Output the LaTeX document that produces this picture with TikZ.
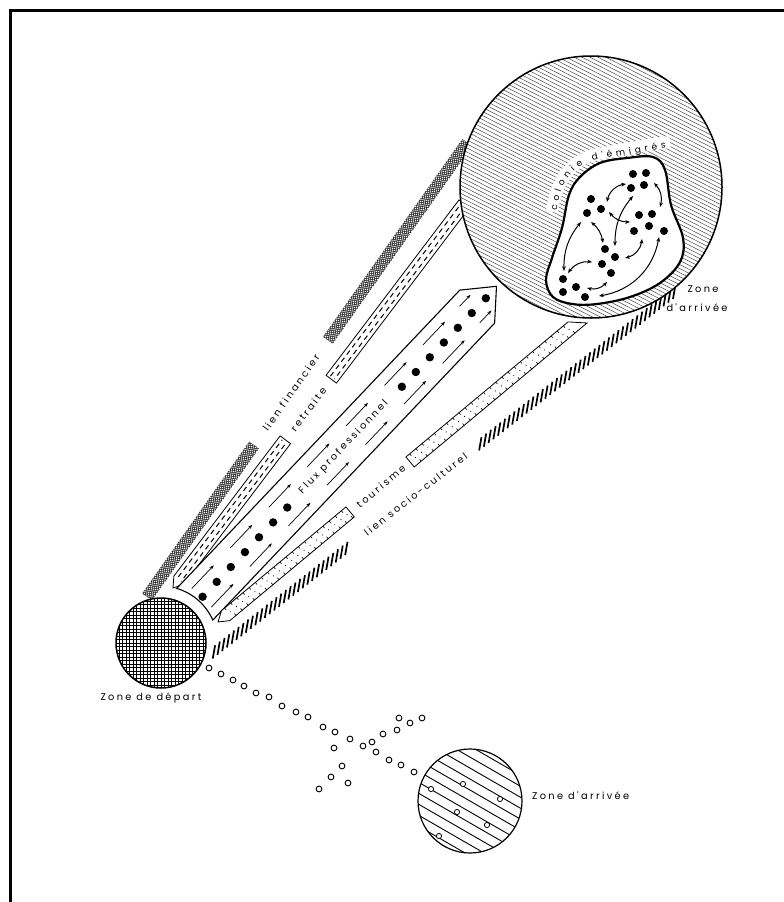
\documentclass[tikz,border=0pt]{standalone}
\usepackage{fontspec}
\newfontfamily\lab[LetterSpace=24]{Poppins}
\newfontfamily\labnsp{Poppins}
\newcommand\labsz{\lab\fontsize{9.8}{11}\selectfont}
\newcommand\curvsz{\labnsp\fontsize{9}{10}\selectfont}
\usetikzlibrary{arrows.meta,decorations.text,calc}
\begin{document}
\begin{tikzpicture}[x=1pt,y=-1pt,
  lbl/.style={font=\labsz, inner sep=0pt},
  bandline/.style={line width=0.8pt},
  parrow/.style={-{Stealth[length=4.5pt,width=3.2pt]}, line width=0.7pt},
  darrow/.style={{Stealth[length=4.8pt,width=3.8pt]}-{Stealth[length=4.8pt,width=3.8pt]}, line width=1pt},
  tick/.style={line width=0.6pt},
  hstroke/.style={line width=1.7pt}]
\useasboundingbox (0,0) rectangle (784,902);
\fill[white] (0,0) rectangle (784,902);
\draw[line width=2.2pt] (10.5,902) -- (10.5,10.5) -- (784,10.5);

% lien financier (dark checker of dots)
\begin{scope}[shift={(147,597)}, rotate=54.83]
  \foreach \a/\b in {0/186, 314/556} {
    \begin{scope}
      \clip (\a,-6) -- (\b,-6) -- (\b,6) -- (\a,6) -- cycle;
      \fill[black!85] (\a,-6) -- (\b,-6) -- (\b,6) -- (\a,6) -- cycle;
      \foreach \s in {0,2.8,...,246} {
        \foreach \t in {-5.6,-2.8,0,2.8,5.6} {
          \fill[white] (\a+\s,\t) circle[radius=0.8pt];
          \fill[white] (\a+\s+1.4,\t+1.4) circle[radius=0.8pt];
        }
      }
    \end{scope}
  }
  \node[lbl, rotate=54.83] (fin) at (250,0) {lien financier};
\end{scope}

% retraite
\begin{scope}[shift={(173,588)}, rotate=52.84]
  \draw[bandline, fill=white] (0,0) -- (10,-6.5) -- (186,-6.5) -- (186,6.5) -- (10,6.5) -- cycle;
  \draw[bandline, fill=white] (262,-6.5) -- (482,-6.5) -- (482,6.5) -- (262,6.5) -- cycle;
  \draw[line width=1pt, dash pattern=on 5pt off 4pt] (12,-2.5) -- (184,-2.5);
  \draw[line width=1pt, dash pattern=on 5pt off 4pt, dash phase=4.5pt] (10,2.5) -- (184,2.5);
  \draw[line width=1pt, dash pattern=on 5pt off 4pt] (264,-2.5) -- (482,-2.5);
  \draw[line width=1pt, dash pattern=on 5pt off 4pt, dash phase=4.5pt] (264,2.5) -- (482,2.5);
  \node[lbl, rotate=52.84] (ret) at (224,0) {retraite};
\end{scope}

% flux professionnel
\begin{scope}[shift={(195,604)}, rotate=46.5]
  \draw[line width=1.1pt, fill=white] (-1.3,-24) -- (410,-24) -- (438,0) -- (410,24) -- (0.6,24)
     -- plot[domain=22.7:-27.1, samples=16] ({-52+57*cos(\x)},{2+57*sin(\x)}) -- cycle;
  \foreach \s in {10.5,31,51.5,72,92.5,113,133.5,300,320.3,340.6,361,381.3,401.6,422}
    \fill (\s,0.5) circle[radius=4.2pt];
  \foreach \s in {25,81,137,193,249,305,361} {
    \draw[parrow] (\s-16,-13) -- (\s+16,-13);
    \draw[parrow] (\s-16,14) -- (\s+16,14);
  }
  \draw[parrow] (398,-13) -- (414,-13);
  \draw[parrow] (400,13) -- (417,13);
  \node[lbl, rotate=46.5] (flux) at (216,0) {Flux professionnel};
\end{scope}

% tourisme
\begin{scope}[shift={(218,622)}, rotate=39.8]
  \draw[bandline, fill=white] (0,0) -- (10,-6.5) -- (172,-6.5) -- (172,6.5) -- (10,6.5) -- cycle;
  \draw[bandline, fill=white] (250,-6.5) -- (461,-6.5) -- (475,6.5) -- (250,6.5) -- cycle;
  \foreach \s in {14,22,...,166} {
    \draw[tick] (\s,-6.5) -- (\s,-4);
    \draw[tick] (\s+4,6.5) -- (\s+4,4);
    \fill (\s+2,0) circle[radius=0.6pt];
  }
  \foreach \s in {255,263,...,455} {
    \draw[tick] (\s,-6.5) -- (\s,-4);
    \draw[tick] (\s+4,6.5) -- (\s+4,4);
    \fill (\s+2,0) circle[radius=0.6pt];
  }
  \node[lbl, rotate=39.8] (tour) at (212,0) {tourisme};
\end{scope}

% lien socio-culturel
\begin{scope}[shift={(210,655)}, rotate=38]
  \foreach \s in {0,6,...,170} \draw[hstroke] (\s,4.5) -- (\s+10,-4.5);
  \foreach \s in {338,344,...,584} \draw[hstroke] (\s,4.5) -- (\s+10,-4.5);
  \node[lbl, rotate=38] (soc) at (261,0) {lien socio-culturel};
\end{scope}

% big arrival circle
\fill[white] (591,187) circle[radius=131pt];
\begin{scope}
  \clip (591,187) circle[radius=131pt];
  \begin{scope}[shift={(591,187)}, rotate=-27]
    \foreach \k in {-37,...,37} \draw[line width=0.42pt, black!80] (-140,\k*3.6) -- (140,\k*3.6);
  \end{scope}
\end{scope}
\draw[white, line width=12pt] (552,212) .. controls (556,177) and (575,158) .. (598,154) .. controls (622,150) and (645,145) .. (670,142);
\draw[line width=1.5pt] (591,187) circle[radius=131pt];

% colony blob
\draw[line width=2.2pt, fill=white] plot[smooth cycle, tension=0.6] coordinates {
  (653,157) (665,170) (671,205) (683,238) (680,262) (660,283) (630,297) (597,304)
  (572,304) (553,297) (546,280) (552,258) (562,228) (569,195) (580,177) (600,163) (627,158)};
\foreach \p in {(633,174),(646,173),(631,188),(644,185),(591,199),(601,209),(587,213),
  (639,215),(652,214),(634,231),(649,226),(664,231),(605,249),(615,257),(602,264),
  (611,273),(563,279),(576,287),(563,292),(585,297)}
  \fill \p circle[radius=4pt];
\draw[darrow] (607,202) to[bend left=35] (626,184);
\draw[darrow] (609,212) to[bend right=25] (630,222);
\draw[darrow] (615,246) to[bend left=20] (633,196);
\draw[darrow] (654,183) to[bend left=30] (660,207);
\draw[darrow] (581,222) to[bend right=20] (564,271);
\draw[darrow] (591,222) to[bend left=20] (603,243);
\draw[darrow] (568,273) to[bend left=30] (592,262);
\draw[darrow] (625,258) to[bend right=35] (642,239);
\draw[darrow] (587,288) to[bend right=30] (607,282);
\draw[darrow] (599,296) to[bend right=35] (659,237);
\path[decorate, decoration={text along path, text={|\curvsz|colonie d'émigrés}, text align={fit to path}}]
  (557,211) .. controls (560,178) and (578,162) .. (600,159) .. controls (622,156) and (645,151) .. (666,148);
\node[lbl] (za1) at (703,289) {Zone};
\node[lbl] (za2) at (697,308) {d'arrivée};

% departure circle
\fill[white] (161,643) circle[radius=45pt];
\begin{scope}
  \clip (161,643) circle[radius=45pt];
  \foreach \k in {-13,...,13} {
    \draw[line width=0.75pt] (161+\k*3.5,590) -- (161+\k*3.5,700);
    \draw[line width=0.75pt] (100,643+\k*3.5) -- (220,643+\k*3.5);
  }
\end{scope}
\draw[line width=1.5pt] (161,643) circle[radius=45pt];
\node[lbl] (zd) at (151,698) {Zone de départ};

% dotted trail
\foreach \p in {(209,668),(221,674),(233,680),(244,686),(256,693),(269,697),(282,706),
  (296,712),(308,717),(323,727),(335,732),(350,739),(363,746),(376,752),(389,760),
  (401,765),(414,772),(399,718),(410,723),(422,718),(397,730),(383,734),(372,742),
  (334,748),(342,766),(331,777),(319,789),(348,783)}
  \draw[line width=0.9pt] \p circle[radius=2.9pt];

% small arrival circle
\fill[white] (470,801) circle[radius=52pt];
\begin{scope}
  \clip (470,801) circle[radius=52pt];
  \begin{scope}[shift={(470,801)}, rotate=-30]
    \foreach \k in {-6,...,6} \draw[line width=0.9pt] (-60,\k*9.5) -- (60,\k*9.5);
  \end{scope}
\end{scope}
\draw[line width=1.2pt] (470,801) circle[radius=52pt];
\foreach \p in {(431,789),(463,784),(500,799),(457,812),(487,825),(439,836)}
  \draw[line width=0.8pt, fill=white] \p circle[radius=2.6pt];
\node[lbl, anchor=west] (zs) at (532,796) {Zone d'arrivée};
\end{tikzpicture}
\end{document}
